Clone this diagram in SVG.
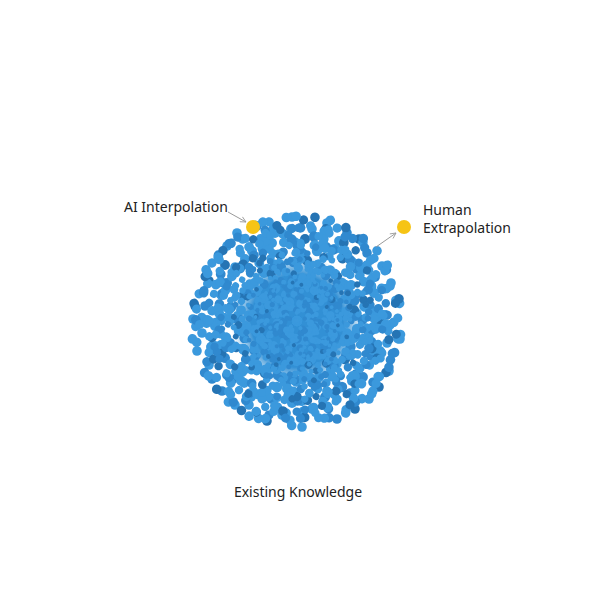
<svg xmlns="http://www.w3.org/2000/svg" xmlns:xlink="http://www.w3.org/1999/xlink" width="600" height="600" viewBox="0 0 600 600">
<style>
.a{fill:#3b99dd}
.b{fill:#3089cf}
.c{fill:#2574b4}
.lbl{font-family:"Noto Sans","Open Sans","DejaVu Sans",sans-serif;font-size:14px;fill:#222}
.arr{stroke:#9a9a9a;stroke-width:1;fill:none}
.gold{fill:#f6c415}
</style>
<defs>
<marker id="ah" viewBox="0 0 10 10" refX="9" refY="5" markerWidth="7" markerHeight="7" orient="auto">
<path d="M1,1 L9,5 L1,9" fill="none" stroke="#9a9a9a" stroke-width="1.2"/>
</marker>
<radialGradient id="core">
<stop offset="0" stop-color="#3290d5"/>
<stop offset="0.7" stop-color="#3290d5"/>
<stop offset="1" stop-color="#3290d5" stop-opacity="0"/>
</radialGradient>
<g id="dots">
<circle class="a" cx="-95" cy="12" r="4.8"/><circle class="c" cx="-88" cy="-40" r="4.8"/><circle class="a" cx="-70" cy="-75" r="4.8"/><circle class="b" cx="-40" cy="-95" r="4.8"/><circle class="a" cx="-5" cy="-104" r="4.8"/><circle class="a" cx="30" cy="-98" r="4.8"/><circle class="c" cx="62" cy="-82" r="4.8"/><circle class="a" cx="85" cy="-55" r="4.8"/><circle class="b" cx="100" cy="-20" r="4.8"/><circle class="a" cx="103" cy="18" r="4.8"/><circle class="a" cx="92" cy="50" r="4.8"/><circle class="a" cx="72" cy="78" r="4.8"/><circle class="b" cx="40" cy="98" r="4.8"/><circle class="a" cx="5" cy="106" r="4.8"/><circle class="c" cx="-30" cy="100" r="4.8"/><circle class="a" cx="-62" cy="84" r="4.8"/><circle class="b" cx="-85" cy="58" r="4.8"/><circle class="a" cx="-100" cy="30" r="4.8"/>
<circle class="a" cx="-78" cy="-8" r="5"/><circle class="b" cx="-70" cy="-38" r="5"/><circle class="a" cx="-52" cy="-62" r="5"/><circle class="a" cx="-25" cy="-78" r="5"/><circle class="c" cx="8" cy="-82" r="5"/><circle class="a" cx="38" cy="-72" r="5"/><circle class="b" cx="60" cy="-52" r="5"/><circle class="a" cx="77" cy="-28" r="5"/><circle class="a" cx="80" cy="5" r="5"/><circle class="b" cx="74" cy="35" r="5"/><circle class="a" cx="55" cy="60" r="5"/><circle class="b" cx="28" cy="76" r="5"/><circle class="a" cx="-5" cy="82" r="5"/><circle class="a" cx="-35" cy="72" r="5"/><circle class="c" cx="-60" cy="52" r="5"/><circle class="a" cx="-76" cy="24" r="5"/>
<circle class="a" cx="-58" cy="10" r="5.2"/><circle class="b" cx="-50" cy="-30" r="5.2"/><circle class="a" cx="-30" cy="-52" r="5.2"/><circle class="a" cx="0" cy="-60" r="5.2"/><circle class="b" cx="32" cy="-50" r="5.2"/><circle class="a" cx="52" cy="-28" r="5.2"/><circle class="a" cx="60" cy="8" r="5.2"/><circle class="c" cx="48" cy="38" r="5.2"/><circle class="a" cx="22" cy="56" r="5.2"/><circle class="b" cx="-10" cy="60" r="5.2"/><circle class="a" cx="-40" cy="44" r="5.2"/><circle class="a" cx="-54" cy="28" r="5.2"/>
<circle class="a" cx="-38" cy="-8" r="5.2"/><circle class="b" cx="-22" cy="-34" r="5.2"/><circle class="a" cx="10" cy="-40" r="5.2"/><circle class="a" cx="36" cy="-18" r="5.2"/><circle class="b" cx="38" cy="16" r="5.2"/><circle class="a" cx="14" cy="38" r="5.2"/><circle class="a" cx="-18" cy="36" r="5.2"/><circle class="b" cx="-36" cy="18" r="5.2"/>
<circle class="a" cx="-18" cy="-10" r="5.2"/><circle class="b" cx="5" cy="-20" r="5.2"/><circle class="a" cx="20" cy="2" r="5.2"/><circle class="a" cx="4" cy="20" r="5.2"/><circle class="b" cx="-14" cy="12" r="5.2"/><circle class="a" cx="0" cy="0" r="5.2"/>
<circle class="b" cx="-92" cy="-15" r="4.8"/><circle class="a" cx="-60" cy="-88" r="4.8"/><circle class="a" cx="15" cy="-92" r="4.8"/><circle class="b" cx="70" cy="-68" r="4.8"/><circle class="a" cx="94" cy="-38" r="4.8"/><circle class="a" cx="90" cy="22" r="4.8"/><circle class="c" cx="58" cy="88" r="4.8"/><circle class="a" cx="-15" cy="94" r="4.8"/><circle class="b" cx="-75" cy="70" r="4.8"/><circle class="a" cx="-104" cy="-2" r="4.8"/><circle class="a" cx="-45" cy="-70" r="5"/><circle class="b" cx="50" cy="-88" r="4.8"/><circle class="a" cx="66" cy="18" r="5.2"/><circle class="b" cx="-66" cy="-14" r="5.2"/><circle class="a" cx="20" cy="-70" r="5.2"/><circle class="a" cx="-20" cy="66" r="5.2"/><circle class="c" cx="82" cy="66" r="4.8"/><circle class="a" cx="-88" cy="44" r="4.8"/><circle class="b" cx="45" cy="66" r="5.2"/><circle class="a" cx="-48" cy="84" r="4.8"/>
<circle class="a" cx="88" cy="-6" r="4.9"/><circle class="a" cx="83" cy="30" r="4.9"/><circle class="b" cx="66" cy="56" r="4.9"/><circle class="a" cx="15" cy="88" r="4.9"/><circle class="a" cx="-46" cy="76" r="4.9"/><circle class="c" cx="-72" cy="-56" r="4.9"/><circle class="a" cx="-22" cy="-88" r="4.9"/><circle class="a" cx="42" cy="-80" r="4.9"/><circle class="b" cx="78" cy="-44" r="4.9"/><circle class="a" cx="-86" cy="26" r="4.9"/>
</g>
</defs>
<rect width="600" height="600" fill="#ffffff"/>
<g id="existing-knowledge">
<circle cx="297" cy="321" r="66" fill="url(#core)"/>
<use xlink:href="#dots" href="#dots" transform="translate(297 321)"/>
<use xlink:href="#dots" href="#dots" transform="translate(297 321) rotate(83)"/>
<use xlink:href="#dots" href="#dots" transform="translate(297 321) rotate(167) scale(0.97)"/>
<use xlink:href="#dots" href="#dots" transform="translate(297 321) rotate(241)"/>
<use xlink:href="#dots" href="#dots" transform="translate(297 321) rotate(311) scale(0.95)"/>
<use xlink:href="#dots" href="#dots" transform="translate(297 321) rotate(203) scale(0.88)"/>
<use xlink:href="#dots" href="#dots" transform="translate(297 321) rotate(17) scale(0.84)"/>
<use xlink:href="#dots" href="#dots" transform="translate(297 321) rotate(37) scale(0.74)"/>
<use xlink:href="#dots" href="#dots" transform="translate(297 321) rotate(290) scale(0.67)"/>
<use xlink:href="#dots" href="#dots" transform="translate(297 321) rotate(127) scale(0.6)"/>
<use xlink:href="#dots" href="#dots" transform="translate(297 321) rotate(271) scale(0.5)"/>
<use xlink:href="#dots" href="#dots" transform="translate(297 321) rotate(59) scale(0.4)"/>
<text class="lbl" x="298" y="497" text-anchor="middle">Existing Knowledge</text>
</g>
<g id="connectors">
<line class="arr" x1="228" y1="212" x2="246" y2="222" marker-end="url(#ah)"/>
<line class="arr" x1="376" y1="247" x2="396" y2="233" marker-end="url(#ah)"/>
</g>
<g id="ai-interpolation">
<circle class="gold" cx="253" cy="227" r="7"/>
<text class="lbl" x="124" y="212">AI Interpolation</text>
</g>
<g id="human-extrapolation">
<circle class="gold" cx="404" cy="227" r="7"/>
<text class="lbl" x="423" y="215">Human<tspan x="423" dy="18">Extrapolation</tspan></text>
</g>
</svg>
